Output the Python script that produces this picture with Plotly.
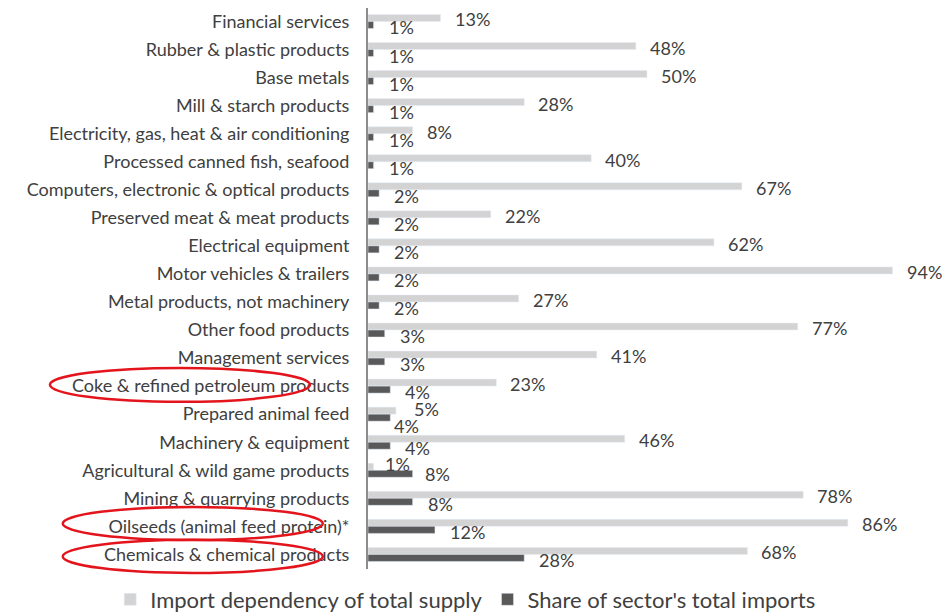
import plotly.graph_objects as go

# data
sectors = [
    "Financial services",
    "Rubber & plastic products",
    "Base metals",
    "Mill & starch products",
    "Electricity, gas, heat & air conditioning",
    "Processed canned fish, seafood",
    "Computers, electronic & optical products",
    "Preserved meat & meat products",
    "Electrical equipment",
    "Motor vehicles & trailers",
    "Metal products, not machinery",
    "Other food products",
    "Management services",
    "Coke & refined petroleum products",
    "Prepared animal feed",
    "Machinery & equipment",
    "Agricultural & wild game products",
    "Mining & quarrying products",
    "Oilseeds (animal feed protein)*",
    "Chemicals & chemical products",
]
import_dependency = [13, 48, 50, 28, 8, 40, 67, 22, 62, 94, 27, 77, 41, 23, 5, 46, 1, 78, 86, 68]
share_of_imports = [1, 1, 1, 1, 1, 1, 2, 2, 2, 2, 2, 3, 3, 4, 4, 4, 8, 8, 12, 28]
circled = ["Coke & refined petroleum products", "Oilseeds (animal feed protein)*", "Chemicals & chemical products"]

FONT = "Lato"
TXT = "#404040"
LIGHT = "#d3d3d3"
DARK = "#595959"

# category axis range (reversed, top row first)
y_top, y_bottom = -0.48, len(sectors) - 0.48

fig = go.Figure()
fig.add_trace(go.Bar(
    y=sectors, x=import_dependency, orientation="h",
    name="Import dependency of total supply", marker_color=LIGHT,
))
fig.add_trace(go.Bar(
    y=sectors, x=share_of_imports, orientation="h",
    name="Share of sector's total imports", marker_color=DARK,
))

# value labels, offset to the right of each bar
# (a couple of rows with tiny bars get their labels nudged apart, as in the original)
light_nudge = {"Prepared animal feed": (16, 5), "Agricultural & wild game products": (9, 6)}
dark_nudge = {"Prepared animal feed": (2, -12), "Agricultural & wild game products": (10, -4)}
for s, v in zip(sectors, import_dependency):
    dx, dy = light_nudge.get(s, (12, 2))
    fig.add_annotation(x=v, y=s, text=f"{v}%", showarrow=False, xanchor="left",
                       xshift=dx, yshift=dy, font=dict(family=FONT, size=18, color=TXT))
for s, v in zip(sectors, share_of_imports):
    dx, dy = dark_nudge.get(s, (13, -6))
    fig.add_annotation(x=v, y=s, text=f"{v}%", showarrow=False, xanchor="left",
                       xshift=dx, yshift=dy, font=dict(family=FONT, size=18, color=TXT))


def cat_to_paper(pos):
    # category position -> paper y, so the ellipse is not clipped by the plot area
    return (y_bottom - pos) / (y_bottom - y_top)


# red ellipses round the highlighted sectors (x in paper units, y in category units)
ellipse_box = {
    "Coke & refined petroleum products": (-0.570, -0.104, -0.65, 0.56),
    "Oilseeds (animal feed protein)*": (-0.547, -0.081, -0.69, 0.49),
    "Chemicals & chemical products": (-0.547, -0.081, -0.52, 0.66),
}
for s in circled:
    i = sectors.index(s)
    x0, x1, dy0, dy1 = ellipse_box[s]
    fig.add_shape(type="circle", xref="paper", yref="paper",
                  x0=x0, x1=x1, y0=cat_to_paper(i + dy1), y1=cat_to_paper(i + dy0),
                  line=dict(color="#e3141c", width=2.5))

# page body has an 8px margin, so the figure is sized to fit the window
fig.update_layout(
    width=944, height=606,
    barmode="group", bargap=0.5, bargroupgap=0,
    plot_bgcolor="white", paper_bgcolor="white",
    margin=dict(l=360, r=26, t=0, b=45, autoexpand=False),
    font=dict(family=FONT, size=18, color=TXT),
    showlegend=True,
    legend=dict(orientation="h", xref="paper", yref="paper",
                x=-0.462, xanchor="left", y=-0.017, yanchor="top",
                font=dict(family=FONT, size=22, color=TXT),
                traceorder="normal", itemwidth=30),
)
fig.update_yaxes(range=[y_bottom, y_top], automargin=False, showline=True,
                 linecolor="#8c8c8c", linewidth=2, ticks="",
                 tickfont=dict(family=FONT, size=18, color=TXT), ticklabelstandoff=13,
                 showgrid=False)
fig.update_xaxes(range=[0, 100], visible=False)

fig.write_html("out.html")
